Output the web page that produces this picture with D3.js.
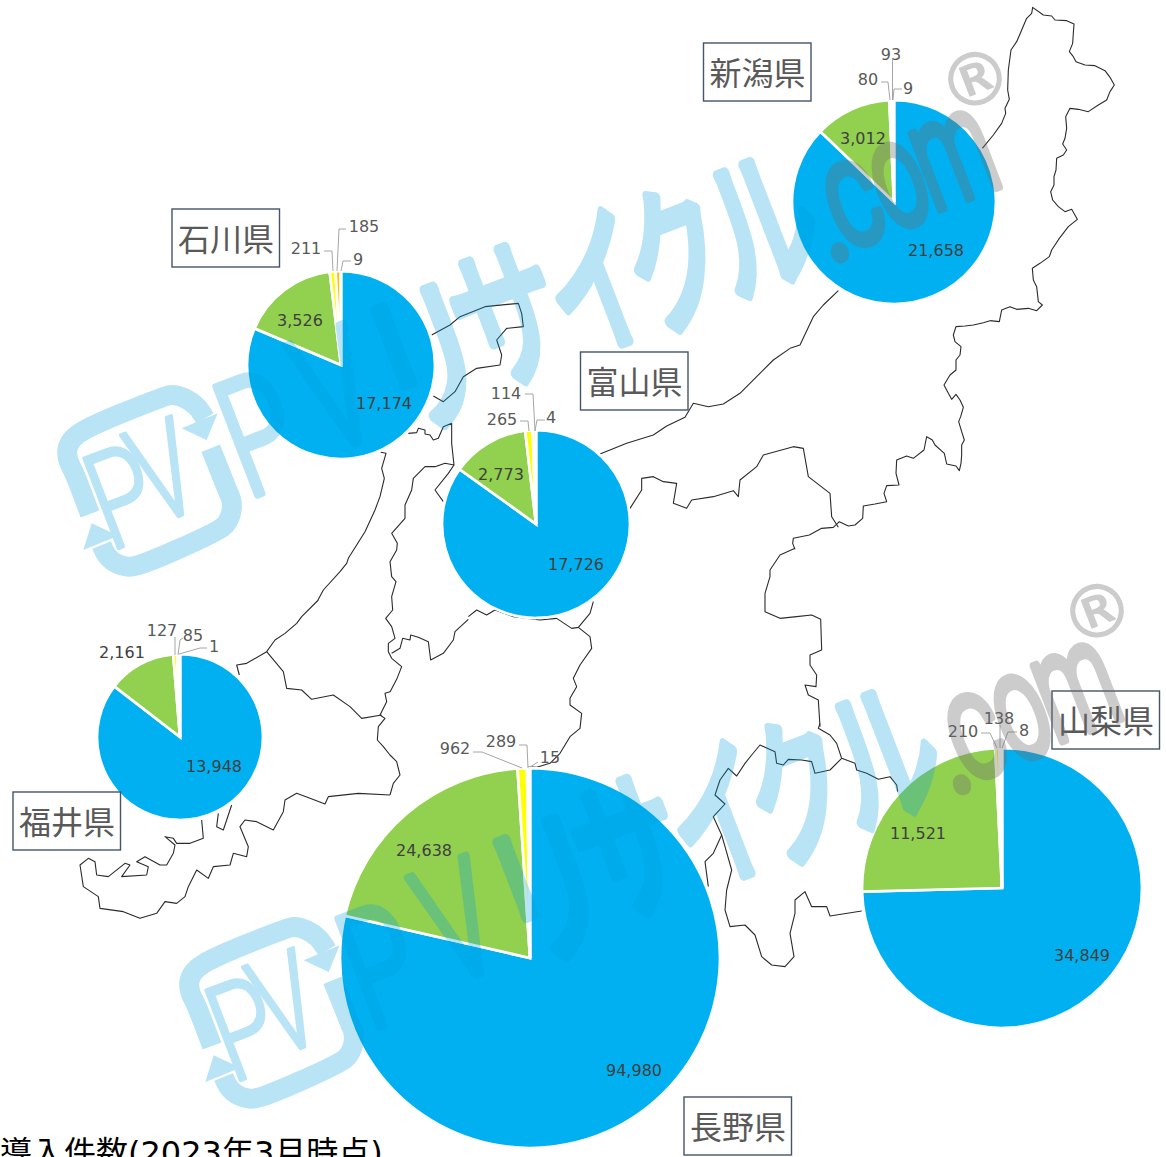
<!DOCTYPE html>
<html lang="ja"><head><meta charset="utf-8">
<style>html,body{margin:0;padding:0;background:#fff;overflow:hidden}svg{display:block}</style>
<script src="https://cdn.jsdelivr.net/npm/d3@7/dist/d3.min.js"></script>
</head><body><svg id="c" width="1166" height="1157"></svg>
<script>
// ---------- data ----------
const prefectures = ["新潟県","石川県","富山県","福井県","長野県","山梨県"];
const niigataValues   = [21658, 3012, 80, 93, 9];
const ishikawaValues  = [17174, 3526, 211, 185, 9];
const toyamaValues    = [17726, 2773, 265, 114, 4];
const fukuiValues     = [13948, 2161, 127, 85, 1];
const naganoValues    = [94980, 24638, 962, 289, 15];
const yamanashiValues = [34849, 11521, 210, 138, 8];
const sliceColors = ["#00B0F0","#92D050","#FFFF00","#FFC000","#A5A5A5"];
const titleText = "導入件数(2023年3月時点)";

// ---------- layout ----------
const pieCenters = [[894,202],[341,365],[536,524],[180,737],[530,958],[1002,888]];
const pieRadii = [102,94,94,83,190,140];
const boxCorners = [[703.5,43],[172,209],[580.5,352],[13,792],[684,1097],[1052,691]];
const labelSpots = [
  [[936,250],[863,138],[868,79],[891,54],[908,88]],
  [[384,403],[300,320],[306,248],[364,226],[358,259]],
  [[576,564],[501,474],[502,419],[506,393],[551,417]],
  [[214,766],[122,652],[162,630],[193,635],[214,646]],
  [[634,1070],[424,850],[455,748],[501,741],[550,757]],
  [[1082,955],[918,833],[963,731],[999,718],[1024,730]]
];
const leaderPaths = [
  [[[881,82],[888,82],[890,100]],[[892.5,60],[892.5,100]],[[902,89],[894,89],[893,100]]],
  [[[324,251],[332,251],[333,271]],[[346,229],[339,229],[337,271]],[[351,261],[343,261],[341,271]]],
  [[[520,421],[528,421],[529,431]],[[525,394],[533,394],[535,431]],[[545,420],[537,420],[535,431]]],
  [[[175,637],[175,655]],[[183,638],[180,640],[178,655]],[[207,648],[200,648],[179,654]]],
  [[[473,752],[482,752],[522,768]],[[519,745],[527,745],[528,768]],[[538,762],[530,767]]],
  [[[981,733],[990,733],[997,748]],[[1000,725],[1000,748]],[[1017,732],[1008,732],[1002,748]]]
];
// map outline, traced in 3x crop coordinates: [originX, originY, points]
const mapLines = [
 [780,0,[[607,445],[640,405],[665,370],[677,340],[675,325],[688,298],[683,270],[685,210],[693,150],[710,125],[725,90],[740,55],[755,40],[758,22],[790,45],[815,48],[825,60],[860,62],[882,72],[880,100],[878,130],[868,155],[880,170],[888,185],[915,195],[945,197],[975,212],[990,232],[1003,255],[990,275],[980,300],[955,315],[925,335],[895,328],[870,325],[857,350],[860,385],[855,415],[848,432],[860,450],[850,465],[830,475],[828,510],[822,530],[822,555],[812,575],[818,600],[835,620],[855,635],[875,628],[892,658],[865,680],[838,715],[815,750],[808,770],[780,790],[757,805],[760,840],[770,860],[775,905],[787,915],[770,932],[745,925],[710,928],[690,920],[665,930],[658,965],[630,962]]],
 [770,310,[[660,32],[640,38],[610,45],[585,48],[558,50],[550,75],[555,95],[573,110],[570,135],[558,150],[558,180],[540,195],[522,225],[535,250],[545,268],[558,253],[570,270],[580,292],[572,320],[566,335],[575,365],[583,390],[575,405],[575,435],[573,460],[568,482],[558,468],[530,462],[523,430],[495,405],[487,390],[470,380],[462,420],[430,445],[410,438],[380,450],[378,490],[387,525],[350,527],[342,550],[350,575],[315,582],[280,588],[278,625],[255,645],[235,648],[208,635],[190,652],[155,655],[118,675],[70,685],[68,700],[75,718]]],
 [380,340,[[1245,625],[1200,645],[1170,690],[1170,710],[1155,760],[1155,815],[1200,835],[1250,830],[1295,825],[1322,838],[1325,930],[1290,945],[1290,975],[1310,1005],[1308,1040],[1275,1035],[1285,1065],[1315,1080],[1320,1160]]],
 [680,680,[[420,130],[415,145],[450,165],[470,190],[485,235],[525,250],[530,270],[560,280],[595,298],[630,290],[650,315],[653,335]]],
 [680,680,[[485,235],[450,270],[405,280],[395,245],[365,240],[325,238],[310,255],[290,250],[285,215],[240,195],[215,225],[195,250],[170,288],[145,265],[120,300],[105,345],[135,372],[100,410],[125,465],[135,500],[155,570],[140,630],[135,690],[150,740],[195,735],[225,765],[245,830],[275,855],[315,860],[342,830],[330,760],[345,700],[345,660],[375,635],[395,680],[440,680],[450,708],[545,693]]],
 [680,680,[[125,465],[100,520],[75,545],[85,620]]],
 [380,340,[[660,342],[740,310],[820,285],[860,258],[915,232],[940,190],[985,200],[1030,192],[1080,160],[1130,110],[1180,60],[1230,25]]],
 [530,40,[[780,925],[810,915],[850,830],[880,795],[925,752]]],
 [380,340,[[750,505],[785,450],[785,415],[820,410],[850,425],[890,430],[880,490],[920,505],[935,480],[1000,470],[1060,452],[1075,470],[1080,420],[1130,380],[1150,345],[1240,320],[1270,325],[1285,410],[1350,460],[1355,530],[1375,562]]],
 [380,340,[[265,830],[290,810],[320,825],[345,810],[400,830],[480,840],[530,835],[575,865],[595,862],[630,820],[640,785]]],
 [380,340,[[595,862],[630,890],[635,925],[600,975],[580,1015],[590,1040],[570,1075],[570,1095],[605,1120],[600,1165],[570,1190],[540,1240],[510,1270],[470,1282],[445,1280]]],
 [340,410,[[205,70],[230,68],[235,55],[255,60],[255,72],[270,75],[280,90],[295,85],[310,50],[335,40],[335,100],[342,165],[315,160],[285,170],[255,170],[220,205],[215,240],[195,285],[195,325],[155,370],[172,400],[170,420],[150,455],[155,500],[168,515],[155,560],[158,600],[137,625],[155,650],[165,685],[145,700],[145,725],[155,745],[185,770],[170,808],[150,846]]],
 [340,640,[[150,155],[135,160],[140,185],[120,225],[135,235],[115,260],[112,300],[130,320],[150,345],[170,365],[180,405],[160,430],[150,465]]],
 [340,410,[[342,165],[325,190],[285,240],[310,275]]],
 [340,410,[[155,730],[180,715],[188,685],[210,690],[212,675],[235,682],[265,695],[272,750],[310,730],[340,690],[345,665],[385,628]]],
 [340,410,[[122,127],[138,130],[125,175],[133,205],[120,260],[105,300],[75,365],[25,445],[20,460],[0,485],[-50,540],[-66,570]]],
 [0,600,[[955,0],[905,50],[890,70],[855,100],[825,120],[800,155],[740,190],[710,195],[718,225]]],
 [0,600,[[800,155],[850,215],[860,265],[905,270],[935,298],[1000,285],[1050,320],[1085,355],[1145,345]]],
 [0,600,[[1170,585],[1075,580],[985,590],[975,612],[930,595],[890,580],[855,600],[850,635],[820,690],[770,665],[735,660],[720,680],[745,740],[740,770],[700,760],[690,795],[640,800],[625,835],[590,810],[565,860],[555,890],[530,910],[495,905],[470,940],[420,955],[370,935],[300,925],[295,890],[250,860],[240,795],[265,775],[285,785],[290,825],[325,830],[375,790],[390,795],[365,830],[440,825],[445,800],[410,785],[435,770],[480,795],[500,795],[520,760],[525,735],[495,710],[520,715],[530,730],[570,730],[610,715],[605,660]]],
 [0,600,[[695,615],[680,660],[670,690],[650,680],[655,640]]],
 [160,200,[[815,405],[870,375],[900,350],[975,320],[1075,310],[1085,340],[1090,380],[1040,385],[1010,420],[1025,465],[1020,495],[950,505],[910,530],[885,575],[850,605],[820,588]]]
];
// watermark glyphs: text, centre x, centre y, font size, x scale, y scale, rotation
const wmLatinGlyphs = [
  ["P",258,432,130,0.85,1.25,-21],
  ["V",335,388,130,0.85,1.25,-21]
];
const wmKanaGlyphs = [
  ["リ",428,360,100,1.15,1.65,-21],
  ["サ",508,318,100,1.05,1.6,-21],
  ["イ",598,285,100,1.0,1.6,-21],
  ["ク",677,261,100,1.0,1.6,-21],
  ["ル",762,225,100,1.05,1.6,-21]
];
const wmGrayGlyphs = [
  [".",824,209,120,1.0,1.2,-21],
  ["c",849,191,125,0.8,1.2,-21],
  ["o",895,172,125,0.72,1.2,-21],
  ["m",950,147,125,0.7,1.2,-21]
];
const wmRegistered = [["®",975,79,72,1,1,-21]];
const wmLogoStrokes = [
  [50,370,[[120,432],[75,315],[55,270],[52,240],[65,210],[95,185],[330,85],[365,75],[405,85],[440,110],[465,145]]],
  [50,370,[[482,235],[530,355],[545,395],[543,430],[525,465],[495,485],[275,582],[235,590],[195,578],[170,555],[155,525]]]
];
const wmLogoArrows = [
  [50,370,[[503,130],[470,210],[395,175]]],
  [50,370,[[125,460],[205,497],[100,540]]]
];
const wmLogoLetters = [["P",121,495,118,0.85,1.15,-21],["V",163,470,118,0.8,1.15,-21]];
const wmOffsets = [[0,0],[122,532]];

// ---------- draw ----------
const svg = d3.select("#c");
const line = d3.line();
const smooth = d3.line().curve(d3.curveCatmullRom.alpha(0.5));
const toScreen = ([ox,oy,pts]) => pts.map(([x,y]) => [ox + x/3, oy + y/3]);
const wmBlue = "#009EDF", wmGray = "#6e6e6e";

svg.append("g").selectAll("path").data(mapLines).join("path")
  .attr("d", d => line(toScreen(d)))
  .attr("fill","none").attr("stroke","#2b2b2b").attr("stroke-width",1.1).attr("stroke-linejoin","round");

const allValues = [niigataValues,ishikawaValues,toyamaValues,fukuiValues,naganoValues,yamanashiValues];
const pie = d3.pie().sort(null).startAngle(0).endAngle(2*Math.PI);
const fmt = d3.format(",");

prefectures.forEach((name,i) => {
  const [cx,cy] = pieCenters[i], r = pieRadii[i];
  const arc = d3.arc().innerRadius(0).outerRadius(r);
  const g = svg.append("g").attr("transform",`translate(${cx},${cy})`);
  g.selectAll("path").data(pie(allValues[i])).join("path")
    .attr("d",arc).attr("fill",(d,k)=>sliceColors[k])
    .attr("stroke","#fff").attr("stroke-width",2.75).attr("stroke-linejoin","miter");
});
prefectures.forEach((name,i) => {
  svg.append("g").selectAll("path").data(leaderPaths[i]).join("path")
    .attr("d",line).attr("fill","none").attr("stroke","#A6A6A6").attr("stroke-width",1);
  svg.append("g").selectAll("text").data(allValues[i]).join("text")
    .attr("x",(d,k)=>labelSpots[i][k][0]).attr("y",(d,k)=>labelSpots[i][k][1]+6)
    .attr("text-anchor","middle")
    .attr("font-family","'DejaVu Sans',sans-serif").attr("font-size",16)
    .attr("fill",(d,k)=>k<2?"#404040":"#595959")
    .text(fmt);
  const [bx,by] = boxCorners[i];
  svg.append("rect").attr("x",bx).attr("y",by).attr("width",107.5).attr("height",58)
    .attr("fill","#fff").attr("stroke","#44546A").attr("stroke-width",1.4);
  svg.append("text").attr("x",bx+54).attr("y",by+42).attr("text-anchor","middle")
    .attr("font-family","'Noto Sans CJK JP',sans-serif").attr("font-size",32).attr("fill","#595959")
    .text(name);
});
svg.append("text").attr("x",0).attr("y",1164)
  .attr("font-family","'DejaVu Sans','Noto Sans CJK JP',sans-serif").attr("font-size",32).attr("fill","#000")
  .text(titleText);

function drawGlyphs(g, list, family, weight, sw, color){
  g.selectAll(null).data(list).join("text")
    .attr("transform",([t,x,y,fs,sx,sy,rot])=>`translate(${x},${y}) rotate(${rot}) scale(${sx},${sy})`)
    .attr("y",d=>d[3]*0.36).attr("text-anchor","middle")
    .attr("font-family",family).attr("font-weight",weight).attr("font-size",d=>d[3])
    .attr("fill",color).attr("stroke",color).attr("stroke-width",sw)
    .attr("stroke-linejoin","round").attr("stroke-linecap","round")
    .text(d=>d[0]);
}
wmOffsets.forEach(([dx,dy]) => {
  const blue = svg.append("g").attr("transform",`translate(${dx},${dy})`).attr("opacity",0.28);
  blue.selectAll(null).data(wmLogoStrokes).join("path")
    .attr("d",d=>smooth(toScreen(d))).attr("fill","none").attr("stroke",wmBlue).attr("stroke-width",20);
  blue.selectAll(null).data(wmLogoArrows).join("path")
    .attr("d",d=>line(toScreen(d))+"Z").attr("fill",wmBlue);
  drawGlyphs(blue, wmLogoLetters, "'Roboto',sans-serif", 300, 3, wmBlue);
  drawGlyphs(blue, wmLatinGlyphs, "'Roboto',sans-serif", 300, 6, wmBlue);
  drawGlyphs(blue, wmKanaGlyphs, "'Noto Sans CJK JP',sans-serif", 400, 7, wmBlue);
  const gray = svg.append("g").attr("transform",`translate(${dx},${dy})`).attr("opacity",0.35);
  drawGlyphs(gray, wmGrayGlyphs, "'Roboto',sans-serif", 300, 8, wmGray);
  drawGlyphs(gray, wmRegistered, "'DejaVu Sans',sans-serif", 400, 1.5, wmGray);
});
</script></body></html>
